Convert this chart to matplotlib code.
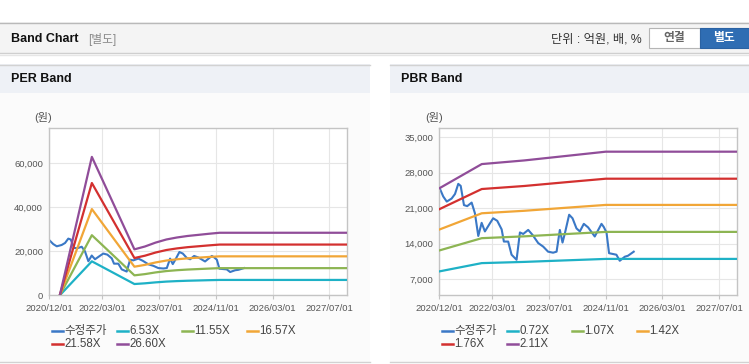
import matplotlib
matplotlib.use('Agg')
import matplotlib.pyplot as plt
import matplotlib.dates as mdates
from matplotlib.patches import Rectangle
from matplotlib.lines import Line2D
import pandas as pd

plt.rcParams['font.family'] = ['Liberation Sans', 'Noto Sans CJK KR']

W, H = 749, 364

# 수정주가 (shared by both charts)
price_dates = ['2020-12-01', '2021-01-04', '2021-02-03', '2021-03-17', '2021-04-15', '2021-05-13',
               '2021-06-03', '2021-07-01', '2021-07-29', '2021-09-05', '2021-10-03', '2021-11-01',
               '2021-11-30', '2021-12-28', '2022-02-09', '2022-03-09', '2022-04-13', '2022-05-21',
               '2022-06-09', '2022-07-16', '2022-08-14', '2022-09-26', '2022-10-25', '2022-11-22',
               '2023-01-04', '2023-02-11', '2023-03-31', '2023-05-13', '2023-06-24', '2023-08-06',
               '2023-09-05', '2023-10-03', '2023-10-26', '2023-11-15', '2023-12-22', '2024-01-20',
               '2024-02-23', '2024-03-23', '2024-04-26', '2024-06-02', '2024-07-29', '2024-09-25',
               '2024-10-14', '2024-11-07', '2024-11-29', '2025-01-31', '2025-03-01', '2025-04-13',
               '2025-05-11', '2025-06-29']
price_values = [25100, 23300, 22300, 22900, 23800, 25800, 25400, 21600, 21400, 22100,
                20000, 15500, 18100, 16400, 18000, 19000, 18500, 16800, 14400, 14400,
                11800, 10800, 16200, 15900, 16700, 15700, 14100, 13400, 12400, 12200,
                12400, 16700, 14200, 16000, 19700, 19000, 17000, 16400, 17900, 17200,
                15400, 17900, 17300, 16200, 12100, 11800, 10600, 11400, 11600, 12400]

# PER band
per_dates = ['2021-03-01', '2021-12-01', '2022-12-01', '2023-03-01', '2023-06-01', '2023-09-01',
             '2023-12-01', '2024-03-01', '2024-06-01', '2024-09-01', '2024-12-01', '2027-12-01']
per_653 = [0, 15460, 5130, 5450, 5890, 6240, 6460, 6630, 6750, 6880, 6990, 6990]
per_1155 = [0, 27350, 9080, 9640, 10420, 11030, 11420, 11720, 11940, 12160, 12360, 12360]
per_1657 = [0, 39240, 13020, 13840, 14950, 15820, 16390, 16820, 17130, 17450, 17730, 17730]
per_2158 = [0, 51100, 16960, 18020, 19470, 20610, 21340, 21900, 22310, 22720, 23090, 23090]
per_2660 = [0, 62990, 20910, 22210, 23990, 25400, 26310, 27000, 27500, 28010, 28460, 28460]
per_labels = ['6.53X', '11.55X', '16.57X', '21.58X', '26.60X']

# PBR band
pbr_dates = ['2020-12-01', '2021-12-01', '2022-12-01', '2023-12-01', '2024-11-01', '2027-12-01']
pbr_072 = [8500, 10140, 10380, 10690, 10970, 10970]
pbr_107 = [12640, 15070, 15430, 15890, 16310, 16310]
pbr_142 = [16770, 19990, 20480, 21090, 21640, 21640]
pbr_176 = [20790, 24780, 25380, 26140, 26820, 26820]
pbr_211 = [24920, 29710, 30430, 31330, 32160, 32160]
pbr_labels = ['0.72X', '1.07X', '1.42X', '1.76X', '2.11X']

x_ticks = ['2020-12-01', '2022-03-01', '2023-07-01', '2024-11-01', '2026-03-01', '2027-07-01']

price_color = '#3a78c6'
band_colors = ['#1eb1c6', '#8db553', '#f1a637', '#d3302f', '#904d99']

fig = plt.figure(figsize=(W / 100, H / 100), dpi=100)
fig.patch.set_facecolor('white')


def fx(px):
    return px / W


def fy(py):
    return 1 - py / H


def rect(x0, y0, x1, y1, z=-2, **kw):
    fig.patches.append(Rectangle((fx(x0), fy(y1)), (x1 - x0) / W, (y1 - y0) / H,
                                 transform=fig.transFigure, zorder=z, **kw))


def hline(y, x0, x1, color, lw=0.8):
    fig.lines.append(Line2D([fx(x0), fx(x1)], [fy(y), fy(y)], transform=fig.transFigure,
                            color=color, lw=lw, zorder=-1))


# header bar
rect(0, 22, W, 53, facecolor='#f4f4f4', edgecolor='none')
hline(22.5, 0, W, '#b9b9b9', 1.0)
hline(53, 0, W, '#cfcfcf', 1.0)
hline(54.5, 0, W, '#e6e6e6', 1.0)
fig.text(fx(11), fy(39), 'Band Chart', fontsize=9, fontweight='bold', color='#111', va='center')
fig.text(fx(88), fy(39), '[별도]', fontsize=8.5, color='#8a8a8a', va='center')
fig.text(fx(642), fy(39), '단위 : 억원, 배, %', fontsize=8.8, color='#333', va='center', ha='right')
rect(649, 28, 699.5, 47.5, z=1, facecolor='white', edgecolor='#b5b5b5', lw=0.8)
fig.text(fx(674), fy(38), '연결', fontsize=8.5, fontweight='bold', color='#666', va='center', ha='center')
rect(699.5, 28, 749, 47.5, z=1, facecolor='#2f6db3', edgecolor='#2a62a3', lw=0.8)
fig.text(fx(724), fy(38), '별도', fontsize=8.5, fontweight='bold', color='white', va='center', ha='center')

# panels
for x0, x1, title in [(0, 370, 'PER Band'), (390, W, 'PBR Band')]:
    rect(x0, 64, x1, 93, facecolor='#eef1f6', edgecolor='none')
    rect(x0, 93, x1, 362, facecolor='#fbfbfb', edgecolor='none')
    hline(64.5, x0, x1, '#d2d2d2', 1.0)
    hline(362, x0, x1, '#d2d2d2', 1.0)
    fig.text(fx(x0 + 11), fy(79), title, fontsize=9, fontweight='bold', color='#111', va='center')


def draw_chart(ax, band_dates, bands, labels, ylim, yticks, legend_x0, unit_x):
    ax.set_facecolor('white')
    ax.plot(pd.to_datetime(price_dates), price_values, color=price_color, lw=1.5, zorder=2)
    for vals, c in zip(bands, band_colors):
        ax.plot(pd.to_datetime(band_dates), vals, color=c, lw=1.6, zorder=3)
    ax.set_xlim(pd.Timestamp('2020-12-01'), pd.Timestamp('2027-12-01'))
    ax.set_ylim(*ylim)
    ax.set_xticks(pd.to_datetime(x_ticks))
    ax.xaxis.set_major_formatter(mdates.DateFormatter('%Y/%m/%d'))
    ax.set_yticks(yticks)
    ax.set_yticklabels([f'{v:,}' for v in yticks])
    ax.grid(True, color='#e6e6e6', lw=0.8)
    ax.set_axisbelow(True)
    for s in ax.spines.values():
        s.set_color('#c4c4c4')
        s.set_linewidth(1.0)
    ax.tick_params(axis='both', length=0, labelsize=6.8, labelcolor='#555', pad=4.5)
    ax.tick_params(axis='x', length=3, color='#c4c4c4', pad=3)
    fig.text(fx(unit_x), fy(118), '(원)', fontsize=8, color='#555', va='center', ha='center')

    # legend
    names = ['수정주가'] + labels
    colors = [price_color] + band_colors
    for i, (n, c) in enumerate(zip(names, colors)):
        col, row = i % 4, i // 4
        x = legend_x0 + col * 65.1
        y = 330.7 + row * 13.3
        fig.lines.append(Line2D([fx(x), fx(x + 11)], [fy(y), fy(y)], transform=fig.transFigure,
                                color=c, lw=1.8))
        fig.text(fx(x + 12.5), fy(y), n, fontsize=8.3, color='#444', va='center')


ax1 = fig.add_axes([fx(49.3), fy(295.3), (347.3 - 49.3) / W, (295.3 - 128.3) / H])
draw_chart(ax1, per_dates, [per_653, per_1155, per_1657, per_2158, per_2660], per_labels,
           (0, 76000), [0, 20000, 40000, 60000], 51.7, 43)

ax2 = fig.add_axes([fx(439.3), fy(295.3), (736.7 - 439.3) / W, (295.3 - 128.3) / H])
draw_chart(ax2, pbr_dates, [pbr_072, pbr_107, pbr_142, pbr_176, pbr_211], pbr_labels,
           (3780, 36780), [7000, 14000, 21000, 28000, 35000], 441.7, 434)

fig.savefig('out.png', dpi=100, facecolor='white')
